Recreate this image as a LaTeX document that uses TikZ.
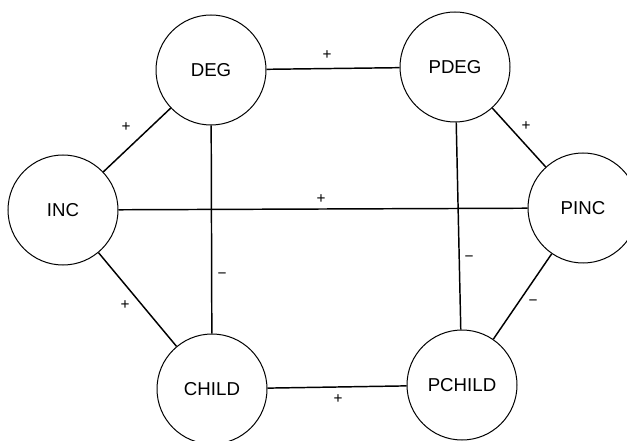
\documentclass[tikz,border=0pt]{standalone}
\usepackage{fontspec}
\setmainfont{Liberation Sans}

\tikzset{every picture/.style={line width=0.75pt}}
\tikzset{
  var/.style={draw, circle, minimum size=82.5pt, inner sep=0pt, font=\fontsize{14}{16}\selectfont},
  link/.style={line width=1.1pt},
  sign/.style={font=\fontsize{11.5}{13}\selectfont, inner sep=0pt}
}

\begin{document}
\begin{tikzpicture}[x=0.75pt,y=0.75pt,yscale=-1,xscale=1]
\useasboundingbox (0,0) rectangle (627,441);

%Variables
\node [var] (deg) at (211,70) {DEG};
\node [var] (pdeg) at (455,67) {PDEG};
\node [var] (inc) at (63,210) {INC};
\node [var] (pinc) at (583,208) {PINC};
\node [var] (child) at (212,389) {CHILD};
\node [var] (pchild) at (462,385) {PCHILD};

%Straight Lines
\draw [link] (deg) -- (pdeg);
\draw [link] (deg) -- (inc);
\draw [link] (inc) -- (pinc);
\draw [link] (deg) -- (child);
\draw [link] (pdeg) -- (pchild);
\draw [link] (pdeg) -- (pinc);
\draw [link] (inc) -- (child);
\draw [link] (pinc) -- (pchild);
\draw [link] (child) -- (pchild);

% Text Node
\node [sign] (sDegPdeg) at (327,55) {+};
\node [sign] (sIncDeg) at (126,127) {+};
\node [sign] (sIncPinc) at (321,199) {+};
\node [sign] (sPdegPinc) at (526,126) {+};
\node [sign] (sDegChild) at (222,276) {−};
\node [sign] (sIncChild) at (125,305) {+};
\node [sign] (sPdegPchild) at (469,259) {−};
\node [sign] (sPincPchild) at (533,303) {−};
\node [sign] (sChildPchild) at (338,399) {+};

\end{tikzpicture}
\end{document}
